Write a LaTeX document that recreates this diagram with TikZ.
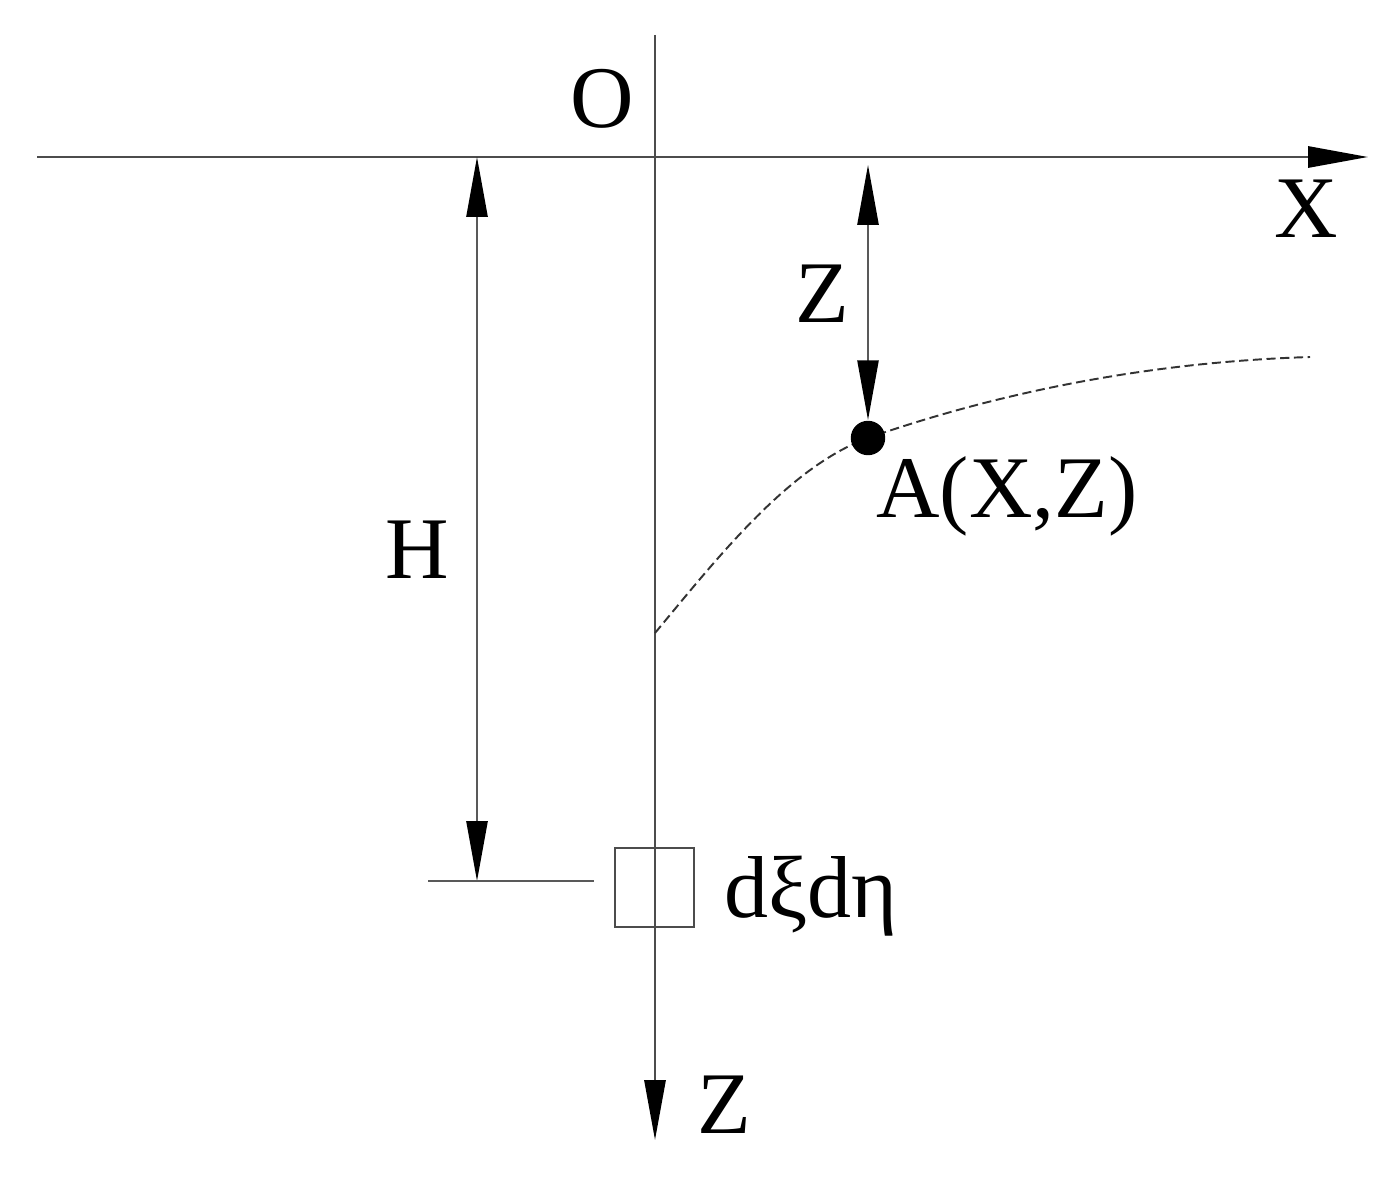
\documentclass[tikz,border=0pt]{standalone}
\usepackage{fontspec}
\setmainfont{Liberation Serif}
\usetikzlibrary{arrows.meta}
\begin{document}
\begin{tikzpicture}[x=0.01cm,y=-0.01cm,
  axisline/.style={line width=0.7pt,draw=black!70},
  dimline/.style={line width=0.6pt,draw=black!65},
  tip/.style={-{Triangle[length=17pt,width=6pt,color=black]}},
  dtip/.style={{Triangle[length=17pt,width=6pt,color=black]}-{Triangle[length=17pt,width=6pt,color=black]}},
  lbl/.style={inner sep=0pt,anchor=base,font=\fontsize{25}{30}\selectfont},
  curve/.style={line width=0.55pt,draw=black!80,dash pattern=on 2.6pt off 1.3pt},
  elem/.style={draw=black!70,line width=0.6pt,minimum size=22.5pt,inner sep=0pt},
  pt/.style={circle,fill=black,minimum size=9.8pt,inner sep=0pt}]
\useasboundingbox (0,0) rectangle (1394,1179);
% axes
\coordinate (xl) at (37,157);
\coordinate (xr) at (1368,157);
\coordinate (zt0) at (655,35);
\coordinate (zb0) at (655,1140);
\draw[axisline,tip] (xl) -- (xr);
\draw[axisline,tip] (zt0) -- (zb0);
% labels
\node[lbl] (O) at (602,128) {O};
\node[lbl] (Xl) at (1306,238) {X};
\node[lbl] (Zl) at (724,1133) {Z};
% H dimension
\coordinate (ht) at (477,157);
\coordinate (hb) at (477,881);
\coordinate (tkl) at (428,881);
\coordinate (tkr) at (594,881);
\draw[dimline,dtip] (ht) -- (hb);
\draw[dimline] (tkl) -- (tkr);
\node[lbl] (H) at (417,578) {H};
% element
\node[elem] (el) at (654.5,887.5) {};
\node[lbl] (dl) at (811,917) {dξdη};
% curve and point
\coordinate (c0) at (655,633);
\coordinate (c1) at (1310,357);
\coordinate (Ac) at (868,438);
\draw[curve] (c0) .. controls (715,561) and (788,467) .. (Ac)
  .. controls (1000,392) and (1150,362) .. (c1);
\node[pt] (A) at (Ac) {};
\node[lbl] (Al) at (1007,517) {A(X,Z)};
% Z dimension
\coordinate (zt) at (868,165);
\draw[dimline,dtip] (zt) -- (A.north);
\node[lbl] (Zd) at (822,322) {Z};
\end{tikzpicture}
\end{document}
